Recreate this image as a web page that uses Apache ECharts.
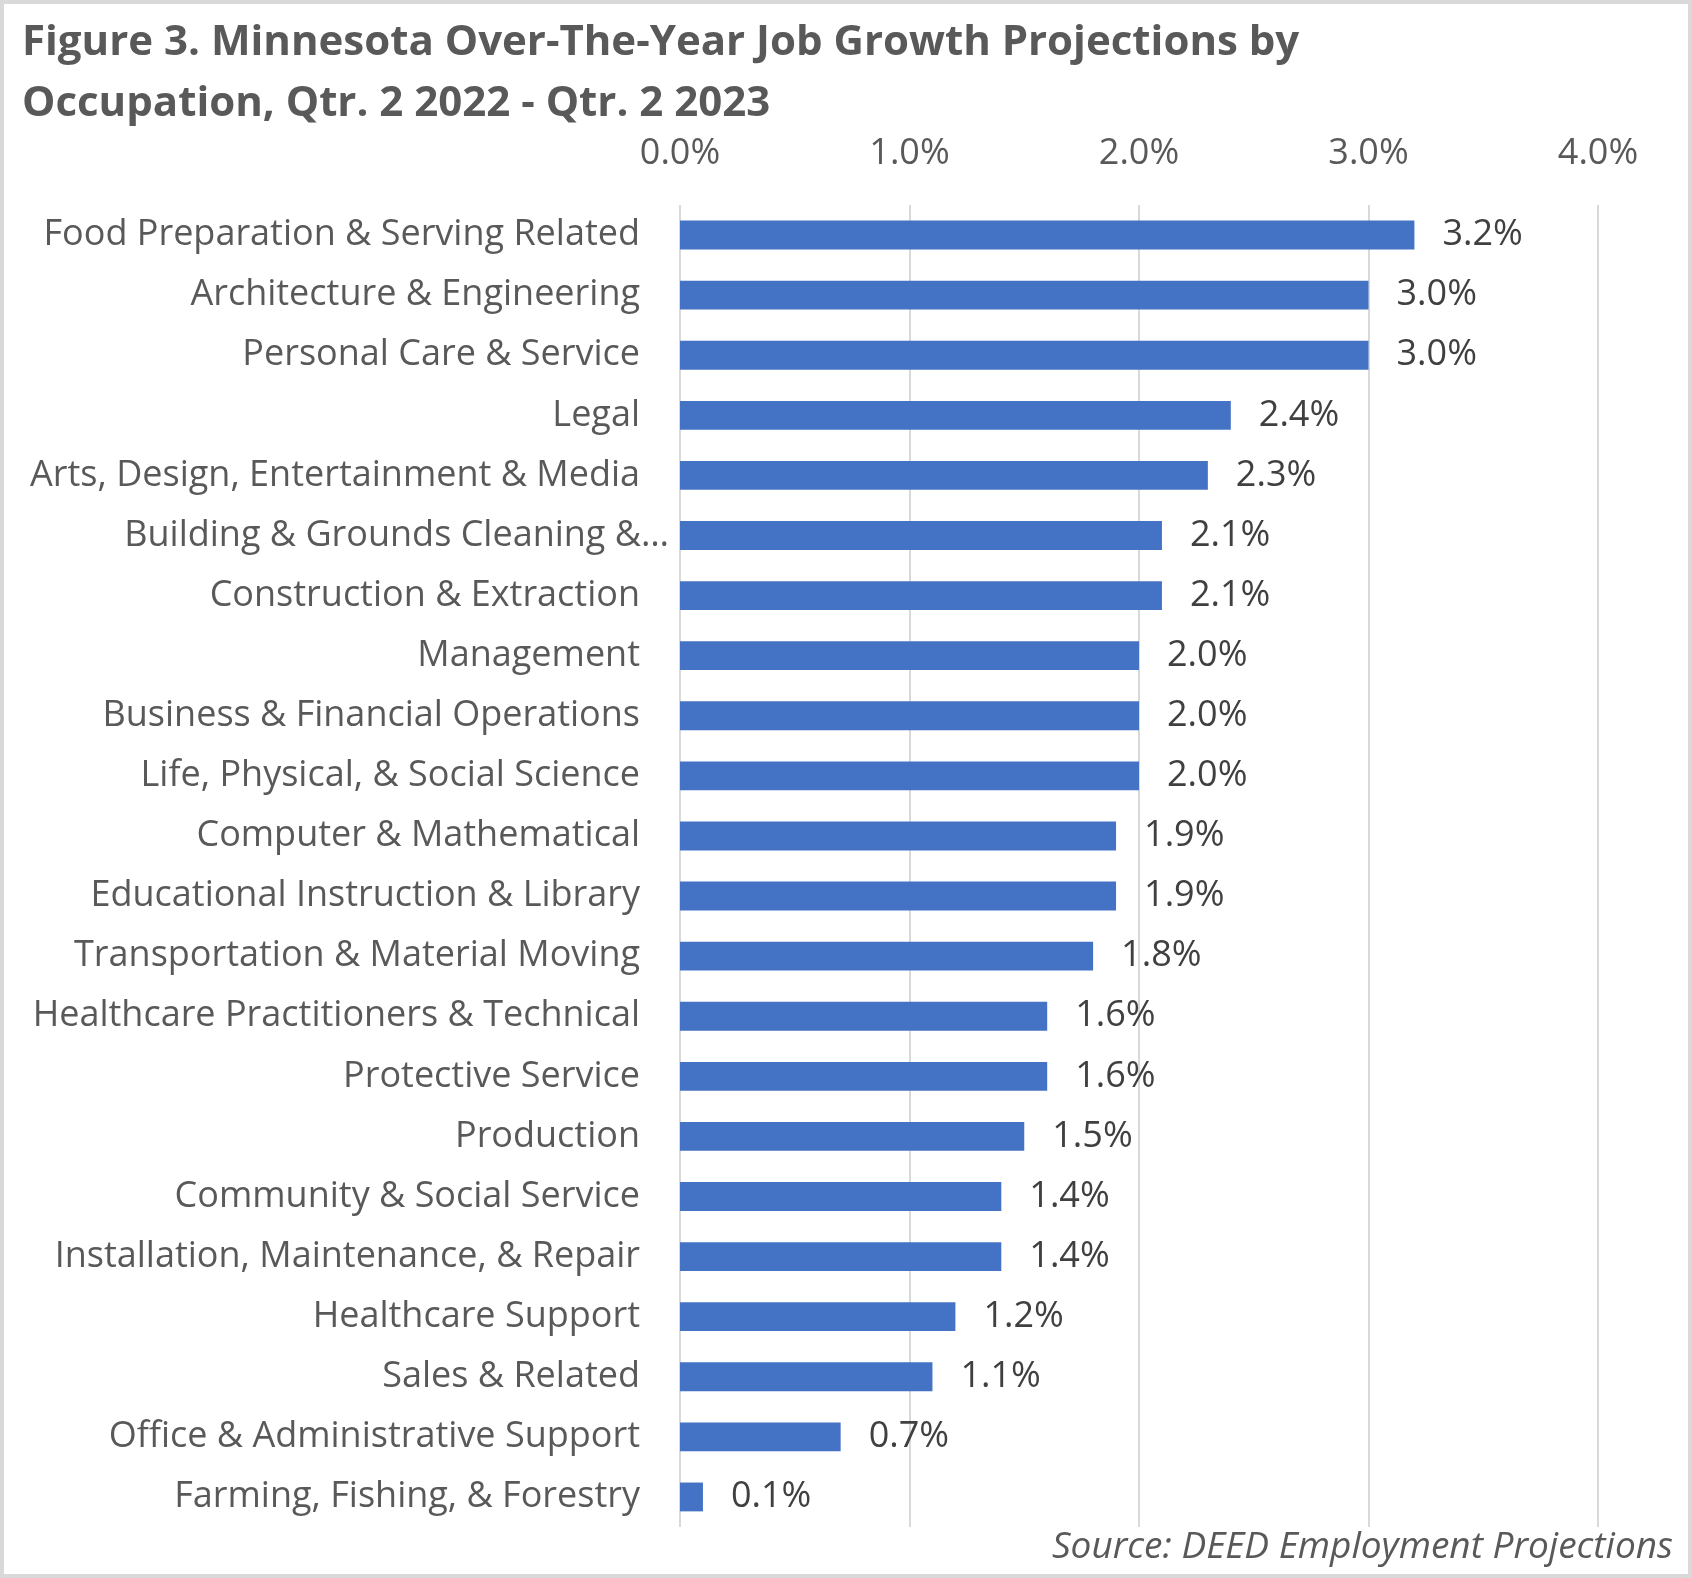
<!DOCTYPE html>
<html>
<head>
<meta charset="utf-8">
<script src="https://cdn.jsdelivr.net/npm/echarts@6/dist/echarts.min.js"></script>
<style>
  html, body { margin: 0; padding: 0; background: #fff; }
  #chart { width: 1692px; height: 1578px; }
</style>
</head>
<body>
<div id="chart"></div>
<script>
// occupations, top to bottom as in the figure
var occupations = [
  'Food Preparation & Serving Related',
  'Architecture & Engineering',
  'Personal Care & Service',
  'Legal',
  'Arts, Design, Entertainment & Media',
  'Building & Grounds Cleaning &\u2026',
  'Construction & Extraction',
  'Management',
  'Business & Financial Operations',
  'Life, Physical, & Social Science',
  'Computer & Mathematical',
  'Educational Instruction & Library',
  'Transportation & Material Moving',
  'Healthcare Practitioners & Technical',
  'Protective Service',
  'Production',
  'Community & Social Service',
  'Installation, Maintenance, & Repair',
  'Healthcare Support',
  'Sales & Related',
  'Office & Administrative Support',
  'Farming, Fishing, & Forestry'
];
// over-the-year growth, percent
var growth = [3.2, 3.0, 3.0, 2.4, 2.3, 2.1, 2.1, 2.0, 2.0, 2.0, 1.9, 1.9, 1.8, 1.6, 1.6, 1.5, 1.4, 1.4, 1.2, 1.1, 0.7, 0.1];

var fontName = 'Open Sans';
var myChart = echarts.init(document.getElementById('chart'));

// the truncated label runs a bit past the others in the original
var yData = occupations.map(function (name) {
  if (name.indexOf('\u2026') >= 0) {
    return { value: name, textStyle: { padding: [12, -29, 0, 0] } };
  }
  return name;
});

var option = {
  backgroundColor: '#fff',
  animation: false,
  title: [{
    text: 'Figure 3. Minnesota Over-The-Year Job Growth Projections by\nOccupation, Qtr. 2 2022 - Qtr. 2 2023',
    left: 17,
    top: 8,
    textStyle: {
      color: '#595959',
      fontFamily: fontName,
      fontWeight: 'bold',
      fontSize: 42,
      lineHeight: 61
    }
  }, {
    text: 'Source: DEED Employment Projections',
    right: 14,
    top: 1524,
    textStyle: {
      color: '#595959',
      fontFamily: fontName,
      fontStyle: 'italic',
      fontWeight: 'normal',
      fontSize: 37
    }
  }],
  grid: {
    left: 680,
    top: 205,
    width: 918,
    height: 1322,
    containLabel: false
  },
  xAxis: {
    type: 'value',
    position: 'top',
    min: 0,
    max: 4,
    interval: 1,
    axisLine: { show: false },
    axisTick: { show: false },
    splitLine: { show: true, lineStyle: { color: '#d9d9d9', width: 2 } },
    axisLabel: {
      margin: 33,
      color: '#595959',
      fontFamily: fontName,
      fontSize: 36,
      formatter: function (v) { return v.toFixed(1) + '%'; }
    }
  },
  yAxis: {
    type: 'category',
    inverse: true,
    data: yData,
    axisLine: { show: false },
    axisTick: { show: false },
    axisLabel: {
      margin: 40,
      color: '#595959',
      fontFamily: fontName,
      fontSize: 36,
      padding: [12, 0, 0, 0]
    }
  },
  series: [{
    type: 'bar',
    data: growth,
    barCategoryGap: '52%',
    itemStyle: { color: '#4472C4' },
    label: {
      show: true,
      position: 'right',
      distance: 28,
      color: '#404040',
      fontFamily: fontName,
      fontSize: 36,
      padding: [14, 0, 0, 0],
      formatter: function (p) { return p.value.toFixed(1) + '%'; }
    }
  }],
  graphic: [{
    type: 'rect',
    silent: true,
    shape: { x: 2, y: 2, width: 1688, height: 1574 },
    style: { fill: 'none', stroke: '#d9d9d9', lineWidth: 4 }
  }]
};

myChart.setOption(option);
window.onresize = myChart.resize;
</script>
</body>
</html>
